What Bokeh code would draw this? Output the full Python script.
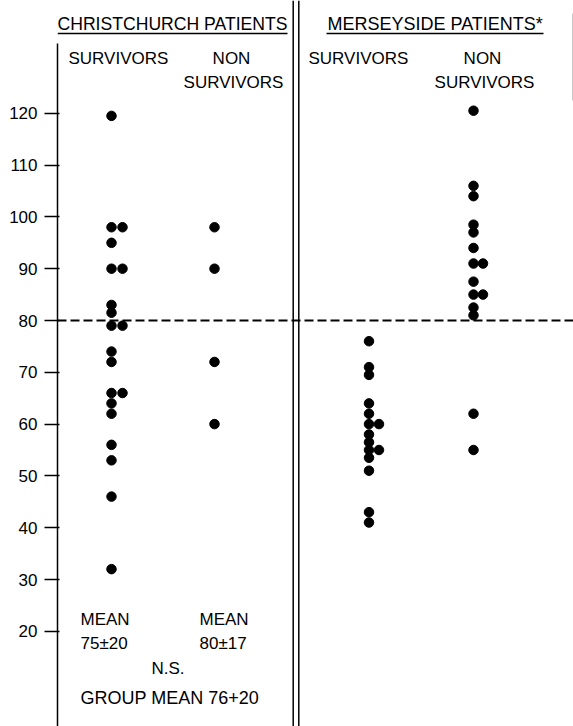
from bokeh.plotting import figure
from bokeh.models import Range1d, Span, FixedTicker, ColumnDataSource
from bokeh.core.properties import value
from bokeh.embed import file_html
from bokeh.resources import INLINE

# ---------------- data ----------------
christchurch_survivors = [119.5, 98, 98, 95, 90, 90, 83, 81.5, 79, 79,
                          74, 72, 66, 66, 64, 62, 56, 53, 46, 32]
christchurch_non_survivors = [98, 90, 72, 60]
merseyside_survivors = [76, 71, 69.5, 64, 62, 60, 60, 58, 56.5, 55, 55,
                        53.5, 51, 43, 41]
merseyside_non_survivors = [120.5, 106, 104, 98.5, 97, 94, 91, 91, 87.5,
                            85, 85, 82.5, 81, 62, 55]
y_ticks = [20, 30, 40, 50, 60, 70, 80, 90, 100, 110, 120]
threshold = 80

FONT = value("Liberation Sans")

# ---------------- layout helpers ----------------
W, H = 573, 726
LEFT = 57
PX_PER_UNIT = 5.18
Y80_PX = 320.0


def to_v(py):
    """pixel row (from top) -> data value"""
    return threshold + (Y80_PX - py) / PX_PER_UNIT


p = figure(width=W, height=H, output_backend="svg", toolbar_location=None,
           x_range=Range1d(LEFT, W), y_range=Range1d(to_v(H), to_v(0)),
           x_axis_location=None, min_border_left=LEFT, min_border_right=0,
           min_border_top=0, min_border_bottom=0)
p.grid.visible = False
p.outline_line_color = None
p.background_fill_color = "white"
p.border_fill_color = "white"

# y axis
ax = p.yaxis[0]
ax.ticker = FixedTicker(ticks=y_ticks)
ax.bounds = (to_v(H), to_v(43))
ax.major_tick_out = 13
ax.major_tick_in = 2
ax.minor_tick_out = 0
ax.minor_tick_in = 0
ax.major_tick_line_width = 1.5
ax.axis_line_width = 1.5
ax.axis_line_color = "black"
ax.major_tick_line_color = "black"
ax.major_label_standoff = 7
ax.major_label_text_font = "Liberation Sans"
ax.major_label_text_font_size = "17px"
ax.major_label_text_color = "black"
ax.major_label_text_font_style = "normal"


# dots
def place(vals, x0, dx):
    xs, seen = [], {}
    for v in vals:
        k = seen.get(v, 0)
        xs.append(x0 + k * dx)
        seen[v] = k + 1
    return xs


groups = [
    (christchurch_survivors, 111, 11),
    (christchurch_non_survivors, 214, 11),
    (merseyside_survivors, 368.5, 10),
    (merseyside_non_survivors, 473, 9.5),
]
for vals, x0, dx in groups:
    src = ColumnDataSource(dict(x=place(vals, x0, dx), y=vals))
    p.scatter("x", "y", source=src, size=9.5, color="black")

# threshold dashed line
p.add_layout(Span(location=threshold, dimension="width", line_color="black",
                  line_width=2, line_dash="9 4"))

# double divider
for xl in (292.7, 298.3):
    p.add_layout(Span(location=xl, dimension="height", line_color="black",
                      line_width=1.5))

# faint edge line
p.segment(x0=[572], y0=[to_v(13)], x1=[572], y1=[to_v(100)],
          line_color="#c8c8c8", line_width=1)

# underlines
p.segment(x0=[57, 326], y0=[to_v(33), to_v(33)], x1=[287, 543],
          y1=[to_v(33), to_v(33)], line_color="black", line_width=1.3)


def txt(x, py, s, size="17px", align="left"):
    p.text(x=[x], y=[to_v(py)], text=[s], text_font=FONT,
           text_font_size=size, text_align=align, text_baseline="middle",
           text_color="black")


txt(57, 23, "CHRISTCHURCH PATIENTS", size="17.6px")
txt(327, 23, "MERSEYSIDE PATIENTS*", size="18px")
txt(68, 58, "SURVIVORS")
txt(231, 58, "NON", align="center")
txt(233, 82, "SURVIVORS", align="center")
txt(308, 58, "SURVIVORS")
txt(482, 58, "NON", align="center")
txt(484, 82, "SURVIVORS", align="center")

txt(80, 619, "MEAN")
txt(80, 643, "75±20")
txt(199, 619, "MEAN")
txt(199, 643, "80±17")
txt(151, 668, "N.S.")
txt(80, 697, "GROUP MEAN 76+20", size="18px")

with open("out.html", "w") as f:
    f.write(file_html(p, INLINE))
